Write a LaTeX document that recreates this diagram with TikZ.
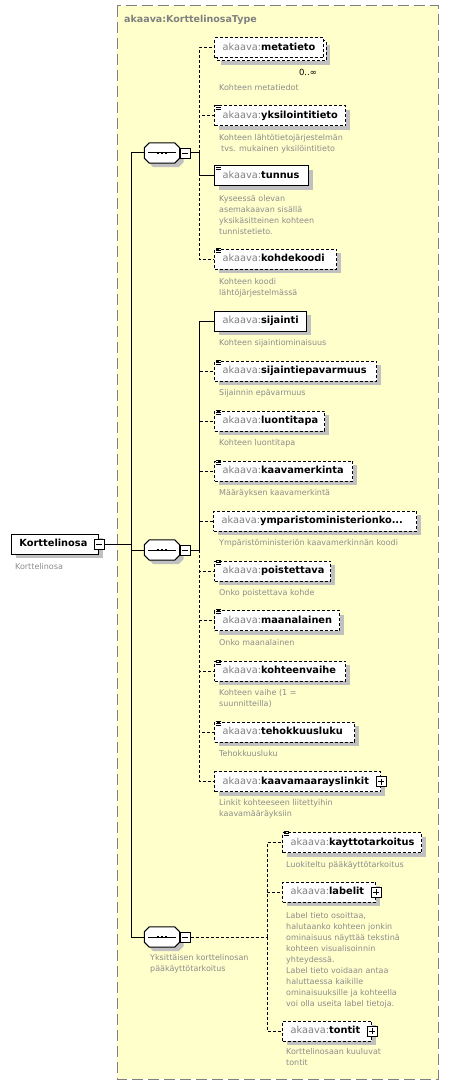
\documentclass[tikz,border=0pt]{standalone}
\usepackage{fontspec}
\setmainfont{DejaVu Sans}
\usetikzlibrary{shadows,calc}
\definecolor{bgyellow}{HTML}{FFFFCC}
\definecolor{framec}{HTML}{808080}
\definecolor{prefc}{HTML}{808080}
\definecolor{descc}{HTML}{8C8C8C}
\definecolor{shadec}{HTML}{C0C0C0}
\newcommand{\nm}[1]{{\color{prefc}akaava:}\textbf{#1}}
\tikzset{
  dsh/.style={dash pattern=on 3pt off 2pt},
  conn/.style={line width=1pt},
  boxbase/.style={draw, fill=white, line width=1pt, minimum height=20pt, inner xsep=8pt, inner ysep=0pt,
    anchor=west, align=left, text height=7.5pt, text depth=2.2pt, font=\fontsize{9.8}{12}\selectfont},
  elbox/.style={boxbase, drop shadow={shadow xshift=4pt, shadow yshift=-4pt, fill=shadec, opacity=1}},
  optbox/.style={elbox, dsh},
  dtext/.style={anchor=north west, align=left, inner sep=0pt, text=descc, font=\fontsize{8}{11}\selectfont},
  pmbox/.style={draw, fill=white, line width=0.8pt, minimum size=10pt, inner sep=0pt},
  seqnode/.style={minimum width=35pt, minimum height=20pt, inner sep=0pt},
}
\newcommand{\simp}[1]{\foreach \d in {-0.6,1.4,3.4}{\draw[line width=0.7pt] ($(#1.north west)+(1.5,\d)$) -- ++(5.5,0);}}
\newcommand{\minus}[1]{\draw[line width=0.8pt] ($(#1.center)+(-3,0)$) -- ($(#1.center)+(3,0)$);}
\newcommand{\plus}[1]{\draw[line width=0.8pt] ($(#1.center)+(-3,0)$) -- ($(#1.center)+(3,0)$) ($(#1.center)+(0,-3)$) -- ($(#1.center)+(0,3)$);}
\newcommand{\seqshape}[1]{%
  \fill[shadec] ($(#1.north west)+(4+5,4)$) -- ($(#1.north east)+(4-5,4)$) -- ($(#1.north east)+(4,4+5)$) -- ($(#1.south east)+(4,4-5)$) -- ($(#1.south east)+(4-5,4)$) -- ($(#1.south west)+(4+5,4)$) -- ($(#1.south west)+(4,4-5)$) -- ($(#1.north west)+(4,4+5)$) -- cycle;
  \draw[fill=white, line width=1pt] ($(#1.north west)+(5,0)$) -- ($(#1.north east)+(-5,0)$) -- ($(#1.north east)+(0,5)$) -- ($(#1.south east)+(0,-5)$) -- ($(#1.south east)+(-5,0)$) -- ($(#1.south west)+(5,0)$) -- ($(#1.south west)+(0,-5)$) -- ($(#1.north west)+(0,5)$) -- cycle;
  \draw[line width=1pt] ($(#1.west)+(4,0)$) -- ($(#1.east)+(-4,0)$);
  \foreach \q in {-4,0,4}{\fill ($(#1.center)+(\q-1.4,-1.4)$) rectangle ++(2.8,2.8);}
}
\begin{document}
\begin{tikzpicture}[x=1pt,y=-1pt]
\useasboundingbox (0,0) rectangle (449,1086);
\draw[framec, dash pattern=on 11pt off 5pt, fill=bgyellow, line width=1pt] (117,6) rectangle (438,1079);
\node[anchor=base west, inner sep=0pt, text=framec, font=\fontsize{9.5}{11}\selectfont\bfseries] (title) at (124,23) {akaava:KorttelinosaType};

% root
\node[elbox, text width=71pt] (root) at (11,544) {\textbf{Korttelinosa}};
\node[pmbox] (rootm) at (root.east) {}; \minus{rootm}
\node[dtext] (rootd) at (15,563) {Korttelinosa};

% sequences
\node[seqnode] (s1) at (162,153) {}; \seqshape{s1}
\node[pmbox, anchor=west] (s1m) at (s1.east) {}; \minus{s1m}
\node[seqnode] (s2) at (162,550) {}; \seqshape{s2}
\node[pmbox, anchor=west] (s2m) at (s2.east) {}; \minus{s2m}
\node[seqnode] (s3) at (162,937) {}; \seqshape{s3}
\node[pmbox, anchor=west] (s3m) at (s3.east) {}; \minus{s3m}
\node[dtext] (s3d) at (150,954) {Yksittäisen korttelinosan\\pääkäyttötarkoitus};

% seq 1 children
\fill[shadec] (221,45) rectangle (330,65);
\draw[dsh, fill=white, line width=1pt] (217,41) rectangle (326,61);
\node[boxbase, dsh, text width=93pt] (meta) at (214,48) {\nm{metatieto}};
\node[anchor=center, inner sep=0pt, font=\fontsize{8.5}{10}\selectfont] (metam) at (308,72) {0..∞};
\node[dtext] (metad) at (219,84) {Kohteen metatiedot};

\node[optbox, text width=115pt] (yksi) at (214,116) {\nm{yksilointitieto}}; \simp{yksi}
\node[dtext] (yksid) at (219,134) {Kohteen lähtötietojärjestelmän\\\hspace{2pt}tvs. mukainen yksilöintitieto};

\node[elbox, text width=78pt] (tunnus) at (214,176) {\nm{tunnus}}; \simp{tunnus}
\node[dtext] (tunnusd) at (219,195) {Kyseessä olevan\\asemakaavan sisällä\\yksikäsitteinen kohteen\\tunnistetieto.};

\node[optbox, text width=106pt] (kohde) at (214,259) {\nm{kohdekoodi}}; \simp{kohde}
\node[dtext] (kohded) at (219,278) {Kohteen koodi\\lähtöjärjestelmässä};

% seq 2 children
\node[elbox, text width=76pt] (sij) at (214,321) {\nm{sijainti}};
\node[dtext] (sijd) at (219,339) {Kohteen sijaintiominaisuus};

\node[optbox, text width=146pt] (sijep) at (214,371) {\nm{sijaintiepavarmuus}}; \simp{sijep}
\node[dtext] (sijepd) at (219,389) {Sijainnin epävarmuus};

\node[optbox, text width=94pt] (luo) at (214,421) {\nm{luontitapa}}; \simp{luo}
\node[dtext] (luod) at (219,439) {Kohteen luontitapa};

\node[optbox, text width=122pt] (kmerk) at (214,471) {\nm{kaavamerkinta}}; \simp{kmerk}
\node[dtext] (kmerkd) at (219,489) {Määräyksen kaavamerkintä};

\node[optbox, text width=187pt] (ymp) at (213,521) {\nm{ymparistoministerionko...}};
\node[dtext] (ympd) at (219,539) {Ympäristöministeriön kaavamerkinnän koodi};

\node[optbox, text width=100pt] (poist) at (214,571) {\nm{poistettava}}; \simp{poist}
\node[dtext] (poistd) at (219,589) {Onko poistettava kohde};

\node[optbox, text width=109pt] (maan) at (214,620.5) {\nm{maanalainen}}; \simp{maan}
\node[dtext] (maand) at (219,639) {Onko maanalainen};

\node[optbox, text width=115pt] (vaihe) at (214,671) {\nm{kohteenvaihe}}; \simp{vaihe}
\node[dtext] (vaihed) at (219,689) {Kohteen vaihe (1 =\\suunnitteilla)};

\node[optbox, text width=124pt] (teho) at (214,732) {\nm{tehokkuusluku}}; \simp{teho}
\node[dtext] (tehod) at (219,750) {Tehokkuusluku};

\node[optbox, text width=150pt] (link) at (214,781.5) {\nm{kaavamaarayslinkit}};
\node[pmbox] (linkp) at (link.east) {}; \plus{linkp}
\node[dtext] (linkd) at (219,799) {Linkit kohteeseen liitettyihin\\kaavamääräyksiin};

% seq 3 children
\node[optbox, text width=123pt] (kaytto) at (282,842.5) {\nm{kayttotarkoitus}}; \simp{kaytto}
\node[dtext] (kayttod) at (286,861) {Luokiteltu pääkäyttötarkoitus};

\node[optbox, text width=77pt] (lab) at (282,892) {\nm{labelit}};
\node[pmbox] (labp) at (lab.east) {}; \plus{labp}
\node[dtext] (labd) at (286,912) {Label tieto osoittaa,\\halutaanko kohteen jonkin\\ominaisuus näyttää tekstinä\\kohteen visualisoinnin\\yhteydessä.\\Label tieto voidaan antaa\\haluttaessa kaikille\\ominaisuuksille ja kohteella\\voi olla useita label tietoja.};

\node[optbox, text width=73pt] (tont) at (282,1031) {\nm{tontit}};
\node[pmbox] (tontp) at (tont.east) {}; \plus{tontp}
\node[dtext] (tontd) at (286,1048) {Korttelinosaan kuuluvat\\tontit};

% connectors
\coordinate (busA) at (131,544);
\coordinate (b1) at (199,153);
\coordinate (b2) at (199,550);
\coordinate (b3) at (267,937);
\draw[conn] (rootm.east) -- (busA);
\draw[conn] (busA) |- (s1.west);
\draw[conn] (busA) |- (s2.west);
\draw[conn] (busA) |- (s3.west);
\draw[conn] (s1m.east) -- (b1);
\draw[conn] (s2m.east) -- (b2);
\draw[conn, dsh] (s3m.east) -- (b3);
\foreach \n in {meta,yksi,kohde}{\draw[conn, dsh] (b1) |- (\n.west);}
\draw[conn] (b1) |- (tunnus.west);
\foreach \n in {sijep,luo,kmerk,ymp,poist,maan,vaihe,teho,link}{\draw[conn, dsh] (b2) |- (\n.west);}
\draw[conn] (b2) |- (sij.west);
\foreach \n in {kaytto,lab,tont}{\draw[conn, dsh] (b3) |- (\n.west);}
\end{tikzpicture}
\end{document}
